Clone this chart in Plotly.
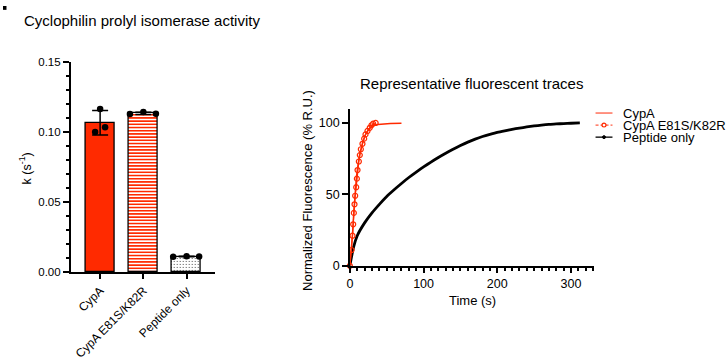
import numpy as np
import plotly.graph_objects as go

W, H = 727, 364
FONT = "Arial, Liberation Sans, sans-serif"
RED = "#FF2A00"

# ---------------- data ----------------
categories = ["CypA", "CypA E81S/K82R", "Peptide only"]
rep_cypa = [0.1000, 0.1165, 0.1034]
rep_mut = [0.1128, 0.1142, 0.1130]
rep_pep = [0.0110, 0.0114, 0.0111]
replicates = [rep_cypa, rep_mut, rep_pep]

pep_t = [0, 5, 10, 20, 30, 40, 50, 60, 70, 80, 90, 100, 110, 120, 130, 140, 150,
         160, 170, 180, 190, 200, 210, 220, 230, 240, 250, 260, 270, 280, 290, 300, 312]
pep_v = [0, 13, 21, 30, 37, 43, 48.5, 53.2, 57.6, 61.8, 65.6, 69.2, 72.6, 75.8, 78.8, 81.6, 84.2,
         86.6, 88.7, 90.5, 92, 93.4, 94.5, 95.5, 96.4, 97.2, 97.9, 98.5, 99, 99.3, 99.6, 99.8, 100]

cypa_t = [0, 2.3, 3.6, 5.4, 6.8, 9, 11.3, 13.5, 16.7, 20, 25, 31.6, 38, 45, 55, 70]
cypa_v = [0, 13, 22, 38, 49, 62.6, 71.6, 78.4, 85, 90.7, 95, 98.6, 99, 99.4, 99.6, 99.8]

mut_t = [0, 2.3, 3.6, 4.5, 5.4, 6.3, 7.2, 8.6, 9.5, 10.4, 12.2, 13.5, 14.9, 17.1,
         19.4, 21.2, 23.9, 27, 29.3, 31.5, 35]
mut_v = [0, 11, 21, 29, 37, 43, 49, 55, 61, 67, 73, 77.5, 81.6, 85.4,
         89, 92, 94.4, 96.6, 98.4, 99.5, 100]

jitter = [[-0.115, 0.0, 0.115], [-0.31, 0.0, 0.29], [-0.31, 0.0, 0.29]]


def fx(px):
    return px / W


def fy(py):
    return 1 - py / H


means = [float(np.mean(r)) for r in replicates]
sds = [float(np.std(r, ddof=1)) for r in replicates]

fig = go.Figure()

# ---------------- left panel: bars ----------------
bar_styles = [
    dict(color=RED, pattern=dict(shape="")),
    dict(color="white", pattern=dict(shape="-", fgcolor=RED, bgcolor="white",
                                     size=3.2, solidity=0.5, fillmode="replace")),
    dict(color="white", pattern=dict(shape=".", fgcolor="#333333", bgcolor="white",
                                     size=3, solidity=0.12, fillmode="replace")),
]
for i in range(3):
    st = bar_styles[i]
    fig.add_trace(go.Bar(
        x=[i], y=[means[i]], width=0.667,
        marker=dict(color=st["color"], line=dict(color="black", width=1.3),
                    pattern=st["pattern"]),
        error_y=dict(type="data", array=[sds[i]], visible=True, color="black",
                     thickness=1.5, width=8),
        xaxis="x", yaxis="y", showlegend=False,
    ))

px_pts, py_pts = [], []
for i, reps in enumerate(replicates):
    for j, v in enumerate(reps):
        px_pts.append(i + jitter[i][j])
        py_pts.append(v)
fig.add_trace(go.Scatter(
    x=px_pts, y=py_pts, mode="markers",
    marker=dict(color="black", size=6.5),
    xaxis="x", yaxis="y", showlegend=False, cliponaxis=False,
))

# ---------------- right panel: traces ----------------
fig.add_trace(go.Scatter(
    x=pep_t, y=pep_v, mode="lines",
    line=dict(color="black", width=2.8, shape="spline", smoothing=0.6),
    xaxis="x2", yaxis="y2", showlegend=False, cliponaxis=False,
))
fig.add_trace(go.Scatter(
    x=cypa_t, y=cypa_v, mode="lines",
    line=dict(color=RED, width=1.5),
    xaxis="x2", yaxis="y2", showlegend=False, cliponaxis=False,
))
fig.add_trace(go.Scatter(
    x=mut_t, y=mut_v, mode="lines+markers",
    line=dict(color=RED, width=1.2),
    marker=dict(symbol="circle-open", color=RED, size=5, line=dict(width=1.2, color=RED)),
    xaxis="x2", yaxis="y2", showlegend=False, cliponaxis=False,
))

axis_common = dict(showline=True, linecolor="black", linewidth=1.5, showgrid=False,
                   zeroline=False, ticks="outside", tickcolor="black", tickwidth=1.5)

fig.update_layout(
    width=W, height=H, margin=dict(l=0, r=0, t=0, b=0),
    paper_bgcolor="white", plot_bgcolor="white",
    font=dict(family=FONT, color="black"),
    bargap=0,
    xaxis=dict(domain=[fx(68), fx(213)], range=[-0.68, 2.66], tickvals=[0, 1, 2],
               ticktext=categories, tickangle=-45, ticklen=5, anchor="y",
               tickfont=dict(family=FONT, size=12, color="black"), **axis_common),
    yaxis=dict(domain=[fy(276), fy(58)], range=[0, 0.15], dtick=0.05, tickformat=".2f",
               ticklen=6, minor=dict(dtick=0.01, ticklen=3, ticks="outside",
                                     tickcolor="black", tickwidth=1.5),
               tickfont=dict(family=FONT, size=11.5, color="black"),
               anchor="x", **axis_common),
    xaxis2=dict(domain=[fx(348.3), fx(593.3)], range=[0, 331], dtick=100, ticklen=6,
                minor=dict(dtick=10, ticklen=3.5, ticks="outside", tickcolor="black",
                           tickwidth=1.5),
                tickfont=dict(family=FONT, size=12.5, color="black"),
                anchor="y2", **axis_common),
    yaxis2=dict(domain=[fy(269.3), fy(106.5)], range=[0, 110], tickvals=[0, 50, 100],
                ticklen=6, tickfont=dict(family=FONT, size=12.5, color="black"),
                anchor="x2", **axis_common),
)

ann = []


def text(s, x, y, size=12, angle=0, xanchor="center", yanchor="middle"):
    ann.append(dict(text=s, x=fx(x), y=fy(y), xref="paper", yref="paper",
                    showarrow=False, textangle=angle, xanchor=xanchor, yanchor=yanchor,
                    font=dict(family=FONT, size=size, color="black")))


text("Cyclophilin prolyl isomerase activity", 139.5, 15, size=15)
text("Representative fluorescent traces", 470, 80, size=15)
text("k (s<sup>-1</sup>)", 22.5, 168, size=12.5, angle=-90)
text("Normalized Fluorescence (% R.U.)", 305, 191, size=13, angle=-90)
text("Time (s)", 471, 305, size=13)

# legend (manual)
leg_y = [111, 123.5, 136]
leg_labels = ["CypA", "CypA E81S/K82R", "Peptide only"]
for yy, lab in zip(leg_y, leg_labels):
    text(lab, 621, yy, size=13, xanchor="left")

shapes = []
shapes.append(dict(type="line", xref="paper", yref="paper", x0=fx(595), x1=fx(612),
                   y0=fy(leg_y[0]), y1=fy(leg_y[0]), line=dict(color="#FF5A40", width=1.3)))
shapes.append(dict(type="line", xref="paper", yref="paper", x0=fx(595), x1=fx(612),
                   y0=fy(leg_y[1]), y1=fy(leg_y[1]),
                   line=dict(color="#FF5A40", width=1.3, dash="3px,2px")))
shapes.append(dict(type="circle", xref="paper", yref="paper", x0=fx(601.5), x1=fx(605.5),
                   y0=fy(leg_y[1] + 2), y1=fy(leg_y[1] - 2),
                   line=dict(color=RED, width=1.2), fillcolor="white"))
shapes.append(dict(type="line", xref="paper", yref="paper", x0=fx(595), x1=fx(612),
                   y0=fy(leg_y[2]), y1=fy(leg_y[2]), line=dict(color="black", width=1.3)))
shapes.append(dict(type="circle", xref="paper", yref="paper", x0=fx(602), x1=fx(605),
                   y0=fy(leg_y[2] + 1.5), y1=fy(leg_y[2] - 1.5),
                   line=dict(color="black", width=1), fillcolor="black"))
# clipped panel-letter fragment at the top-left corner
shapes.append(dict(type="rect", xref="paper", yref="paper", x0=0, x1=fx(3.5),
                   y0=fy(4), y1=1, line=dict(width=0), fillcolor="black"))

fig.update_layout(annotations=ann, shapes=shapes)

fig.write_html("out.html")
